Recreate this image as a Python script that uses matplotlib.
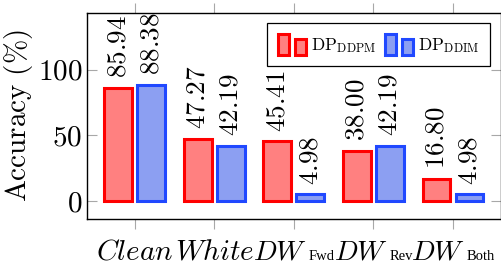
import numpy as np
import matplotlib
matplotlib.use("Agg")
import matplotlib.pyplot as plt
import matplotlib.transforms as mtransforms
from matplotlib.patches import Rectangle
from matplotlib.legend_handler import HandlerBase

plt.rcParams["mathtext.fontset"] = "cm"
plt.rcParams["font.family"] = "serif"
plt.rcParams["font.serif"] = ["cmr10", "DejaVu Serif"]
plt.rcParams["axes.formatter.use_mathtext"] = True

# ── data ─────────────────────────────────────────────────────────────────────
cat_main = ["Clean", "White", "DW", "DW", "DW"]
cat_sub = ["", "", "Fwd", "Rev", "Both"]
acc_ddpm = [85.94, 47.27, 45.41, 38.00, 16.80]
acc_ddim = [88.38, 42.19, 4.98, 42.19, 4.98]
series_labels = [r"$\mathrm{DP}_{\mathrm{DDPM}}$", r"$\mathrm{DP}_{\mathrm{DDIM}}$"]

VAL_FS = 19.5
TICK_FS = 21
CAT_FS = 21
DW_FS = 20
SUB_FS = 10.5
LABEL_FS = 21
LEGEND_FS = 12.5
RED_EDGE, RED_FILL = "#ff0000", "#ff8080"
BLUE_EDGE, BLUE_FILL = "#2048ff", "#8c9ff2"
TICK_GRAY = "#a8a8a8"


class TwoBarHandler(HandlerBase):
    # pgfplots-style ybar legend: two small bars
    def create_artists(self, legend, orig_handle, xdescent, ydescent,
                       width, height, fontsize, trans):
        fc = orig_handle.get_facecolor()
        ec = orig_handle.get_edgecolor()
        lw = orig_handle.get_linewidth()
        w = width * 0.4
        r1 = Rectangle((-xdescent, -ydescent), w, height * 1.0,
                       facecolor=fc, edgecolor=ec, lw=lw, transform=trans)
        r2 = Rectangle((-xdescent + width * 0.6, -ydescent), w, height * 0.75,
                       facecolor=fc, edgecolor=ec, lw=lw, transform=trans)
        return [r1, r2]


fig = plt.figure(figsize=(5.02, 2.66), dpi=100)
ax = fig.add_axes([0.1733, 0.1778, 0.8241, 0.7733])

x = np.arange(len(cat_main))
off = 0.207
bw = 0.35
b1 = ax.bar(x - off, acc_ddpm, bw, facecolor=RED_FILL, edgecolor=RED_EDGE,
            lw=2.2, zorder=2)
b2 = ax.bar(x + off, acc_ddim, bw, facecolor=BLUE_FILL, edgecolor=BLUE_EDGE,
            lw=2.2, zorder=2)

for xs, vals in ((x - off, acc_ddpm), (x + off, acc_ddim)):
    for xi, v in zip(xs, vals):
        ax.annotate(f"${v:.2f}$", (xi, v), xytext=(0, 7),
                    textcoords="offset points", rotation=90,
                    ha="center", va="bottom", fontsize=VAL_FS)

ax.set_xlim(-0.6, 4.6)
ax.set_ylim(-13.5, 143)
ax.set_yticks([0, 50, 100])
ax.set_yticklabels([r"$0$", r"$50$", r"$100$"])
ax.set_xticks(x)
ax.set_xticklabels([])

ax.tick_params(axis="y", direction="in", left=True, right=True, length=7,
               width=0.8, color=TICK_GRAY, labelsize=TICK_FS, pad=3.5)
ax.tick_params(axis="x", direction="out", bottom=True, top=True, length=7,
               width=0.8, color=TICK_GRAY)
for s in ax.spines.values():
    s.set_linewidth(1.0)

# ── category labels: italic main part + small upright subscript ─────────────
renderer = fig.canvas.get_renderer()
xtrans = ax.get_xaxis_transform()
LABEL_Y = -0.196
for xi, main, sub in zip(x, cat_main, cat_sub):
    if not sub:
        ax.text(xi, LABEL_Y, f"${main}$", transform=xtrans, ha="center",
                va="baseline", fontsize=CAT_FS, clip_on=False)
        continue
    t_main = ax.text(xi, LABEL_Y, f"${main}$", transform=xtrans, ha="center",
                     va="baseline", fontsize=DW_FS, clip_on=False)
    t_sub = ax.annotate(sub, xy=(1, 0), xycoords=t_main, xytext=(1, 1.2),
                        textcoords="offset points", ha="left", va="bottom",
                        fontsize=SUB_FS, family="Liberation Serif")
    w_sub = t_sub.get_window_extent(renderer).width + 1.4
    t_main.set_transform(mtransforms.offset_copy(xtrans, fig=fig, x=-w_sub / 2,
                                                 units="dots"))

ax.set_ylabel(r"$\mathrm{Accuracy\ (\%)}$", fontsize=LABEL_FS, labelpad=2)

leg = ax.legend([b1.patches[0], b2.patches[0]], series_labels,
                handler_map={matplotlib.patches.Rectangle: TwoBarHandler()},
                loc="upper right", fontsize=LEGEND_FS, ncol=2, frameon=True,
                fancybox=False, edgecolor="black", framealpha=1,
                handlelength=1.65, handleheight=1.5, handletextpad=0.3,
                columnspacing=0.45, borderaxespad=0.6, borderpad=0.6)
leg.get_frame().set_linewidth(0.9)

fig.savefig("out.png", dpi=100)
